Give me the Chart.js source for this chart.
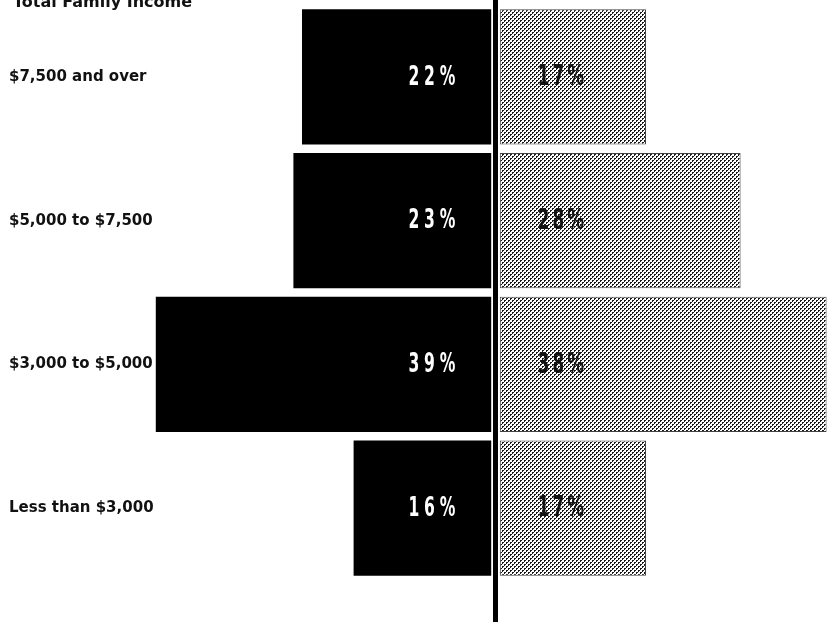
<!DOCTYPE html>
<html>
<head>
<meta charset="utf-8">
<script src="https://cdn.jsdelivr.net/npm/chart.js@4.4.1/dist/chart.umd.min.js"></script>
<style>
  html, body { margin: 0; padding: 0; background: #fff; overflow: hidden; }
  canvas { display: block; }
</style>
</head>
<body>
<canvas id="chart" width="833" height="625"></canvas>
<script>
// Income brackets, top to bottom
const incomeBrackets = ['$7,500 and over', '$5,000 to $7,500', '$3,000 to $5,000', 'Less than $3,000'];
// Percent shares: solid bars to the left of the centre line, shaded bars to the right
const solidSharePct = [22, 23, 39, 16];
const shadedSharePct = [17, 28, 38, 17];
const chartTitle = 'Total Family Income';

// small white gap (in percent units) between each bar and the centre line
const gap = 0.5;

// coarse dotted fill for the shaded bars
function stipplePattern(ctx) {
  const tile = document.createElement('canvas');
  tile.width = 4; tile.height = 4;
  const t = tile.getContext('2d');
  t.fillStyle = '#ffffff';
  t.fillRect(0, 0, 4, 4);
  t.fillStyle = '#1a1a1a';
  t.fillRect(0, 0, 2, 1);
  t.fillRect(0, 1, 1, 1);
  t.fillRect(2, 2, 2, 1);
  t.fillRect(2, 3, 1, 1);
  return ctx.createPattern(tile, 'repeat');
}

// draws condensed text by squeezing the glyphs horizontally
function condensedText(c, text, x, y, align, squeeze) {
  c.save();
  const w = c.measureText(text).width * squeeze;
  const left = align === 'right' ? x - w : x;
  c.translate(left, y);
  c.scale(squeeze, 1);
  c.textAlign = 'left';
  c.fillText(text, 0, 0);
  c.restore();
}

const canvas = document.getElementById('chart');
const ctx = canvas.getContext('2d');

const centreLineAndLabels = {
  id: 'centreLineAndLabels',
  afterDatasetsDraw(chart) {
    const c = chart.ctx;
    const xs = chart.scales.x;
    const zero = xs.getPixelForValue(0);

    // vertical centre line
    c.save();
    c.fillStyle = '#000';
    c.fillRect(zero - 2.5, 0, 5, 622);

    // percentage labels inside the bars
    c.textBaseline = 'middle';
    c.font = '600 26px "DejaVu Sans", sans-serif';
    c.letterSpacing = '8px';
    c.fillStyle = '#ffffff';
    chart.getDatasetMeta(0).data.forEach((bar, i) => {
      condensedText(c, solidSharePct[i] + '%', xs.getPixelForValue(-gap) - 31, bar.y + 1, 'right', 0.6);
    });
    c.font = 'bold 28px "DejaVu Sans", sans-serif';
    c.letterSpacing = '5px';
    c.fillStyle = '#111';
    chart.getDatasetMeta(1).data.forEach((bar, i) => {
      condensedText(c, shadedSharePct[i] + '%', xs.getPixelForValue(gap) + 38, bar.y + 1, 'left', 0.6);
    });

    // heading, partly above the top edge
    c.letterSpacing = '0px';
    c.font = 'bold 16px "DejaVu Sans", sans-serif';
    c.fillStyle = '#111';
    c.textAlign = 'left';
    c.textBaseline = 'alphabetic';
    c.fillText(chartTitle, 13, 7);
    c.restore();
  }
};

new Chart(ctx, {
  type: 'bar',
  data: {
    labels: incomeBrackets,
    datasets: [
      {
        data: solidSharePct.map(v => [-(v + gap), -gap]),
        backgroundColor: '#000',
        grouped: false,
        barPercentage: 1,
        categoryPercentage: 0.94
      },
      {
        data: shadedSharePct.map(v => [gap, v + gap]),
        backgroundColor: stipplePattern(ctx),
        borderColor: '#444',
        borderWidth: 1,
        borderSkipped: false,
        grouped: false,
        barPercentage: 1,
        categoryPercentage: 0.94
      }
    ]
  },
  options: {
    indexAxis: 'y',
    responsive: false,
    animation: false,
    devicePixelRatio: 1,
    layout: { padding: { top: 5, bottom: 45, left: 0, right: 0 } },
    plugins: {
      legend: { display: false },
      tooltip: { enabled: false },
      title: { display: false }
    },
    scales: {
      x: {
        display: false,
        min: -495.5 / 8.6,
        max: 337.5 / 8.6
      },
      y: {
        position: 'left',
        grid: { display: false, drawTicks: false },
        border: { display: false },
        afterFit(scale) {
          // labels sit over the plot area, so the axis takes no room
          scale.width = 0;
          scale.paddingTop = 0;
          scale.paddingBottom = 0;
        },
        ticks: {
          mirror: true,
          crossAlign: 'near',
          padding: 9,
          color: '#111',
          font: { family: '"DejaVu Sans", sans-serif', weight: 'bold', size: 15 }
        }
      }
    }
  },
  plugins: [centreLineAndLabels]
});
</script>
</body>
</html>
